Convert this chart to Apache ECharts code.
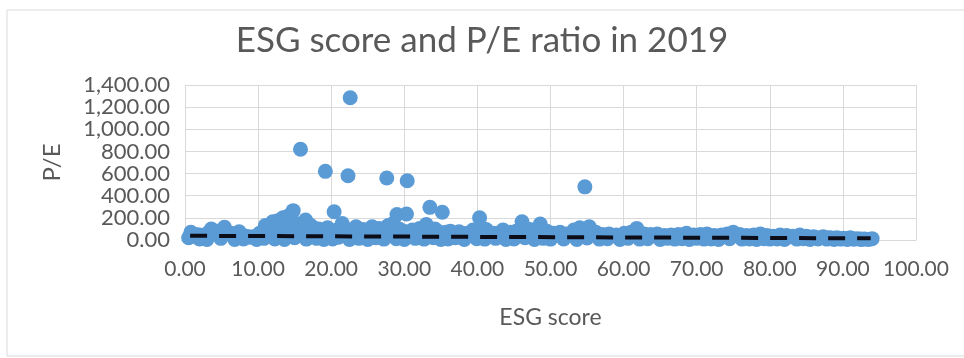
<!DOCTYPE html>
<html>
<head>
<meta charset="utf-8">
<script src="https://cdn.jsdelivr.net/npm/echarts@6/dist/echarts.min.js"></script>
<style>
	html, body { margin: 0; padding: 0; background: #fff; }
	#chart { width: 964px; height: 358px; }
</style>
</head>
<body>
<div id="chart"></div>
<script>
	// [ESG score, P/E] pairs
	var outliers = [
		[15.8, 820], [22.6, 1285], [19.2, 620], [22.3, 580], [27.6, 560], [30.4, 535], [54.7, 480]
	];
	var upperPoints = [
		[14.8, 265], [13.4, 200], [12.0, 165], [20.4, 255], [29.0, 230], [30.3, 235], [33.5, 295],
		[35.2, 250], [40.3, 200], [46.1, 165], [48.6, 145], [17.0, 140], [21.5, 150], [11.0, 130], [16.5, 180],
		[14.2, 220], [12.7, 175]
	];
	var midBand = [
		[0.8, 70], [1.5, 50], [2.5, 40], [3.6, 100], [4.4, 80], [5.4, 115], [6.3, 60], [7.4, 75], [8.4, 35],
		[9.3, 30], [10.2, 60], [12.8, 120], [14.0, 130], [15.2, 150], [16.2, 110], [17.4, 120], [18.3, 100],
		[19.5, 110], [20.8, 90], [21.7, 120], [23.4, 120], [24.4, 95], [25.6, 120], [26.6, 105], [27.8, 130],
		[28.5, 150], [31.1, 90], [32.1, 105], [33.0, 140], [34.2, 100], [36.3, 80], [37.5, 75], [38.6, 60],
		[39.4, 90], [41.2, 95], [42.2, 60], [43.5, 90], [44.5, 70], [45.3, 80], [47.2, 95], [49.5, 80],
		[50.4, 60], [51.3, 70], [52.2, 55], [53.2, 90], [54.0, 110], [55.3, 120], [56.2, 70], [57.1, 50],
		[58.0, 55], [59.0, 45], [60.1, 60], [61.0, 70], [61.8, 105], [62.8, 55], [63.7, 50], [64.6, 55],
		[65.6, 40], [66.5, 45], [67.5, 50], [68.6, 60], [69.6, 45], [70.5, 50], [71.4, 55], [72.4, 40],
		[73.4, 45], [74.2, 55], [75.0, 70], [75.9, 50], [76.8, 40], [77.8, 45], [78.7, 55], [79.6, 40],
		[80.5, 35], [81.4, 45], [82.3, 40], [83.2, 35], [84.1, 45], [85.0, 35], [86.0, 30], [87.3, 30],
		[88.3, 20], [89.2, 20], [90.1, 15], [91.0, 20], [92.0, 12], [93.0, 10], [94.0, 12]
	];
	var fillBand = [
		[1.1, 35], [2.0, 45], [3.1, 60], [4.0, 55], [4.9, 70], [5.9, 65], [6.9, 50], [7.9, 40], [8.9, 25],
		[9.8, 35], [10.7, 70], [11.4, 90], [12.3, 80], [13.2, 95], [14.5, 90], [15.7, 95], [16.8, 80],
		[17.9, 70], [18.9, 85], [20.0, 80], [21.2, 70], [22.2, 90], [23.0, 75], [24.0, 70], [25.0, 80],
		[26.1, 70], [27.2, 85], [28.0, 90], [29.3, 100], [29.9, 80], [30.8, 75], [31.6, 70], [32.6, 80],
		[33.7, 85], [34.7, 75], [35.7, 70], [36.9, 55], [38.0, 50], [39.0, 60], [39.9, 70], [40.8, 80],
		[41.7, 55], [42.8, 60], [44.0, 65], [44.9, 55], [45.8, 70], [46.7, 85], [47.7, 75], [48.2, 90],
		[49.0, 60], [50.0, 50], [50.9, 45], [51.8, 50], [52.7, 45], [53.7, 70], [54.4, 80], [54.9, 95],
		[55.8, 60], [56.7, 45], [57.6, 40], [58.5, 40], [59.6, 40], [60.6, 45], [61.4, 60], [62.3, 60],
		[63.3, 40], [64.1, 40], [65.1, 35], [66.0, 35], [67.0, 40], [68.0, 45], [69.1, 40], [70.0, 35],
		[71.0, 40], [71.9, 35], [72.9, 35], [73.8, 40], [74.6, 45], [75.5, 45], [76.4, 35], [77.3, 35],
		[78.2, 40], [79.2, 35], [80.1, 30], [81.0, 30], [81.9, 30], [82.8, 30], [83.7, 30], [84.6, 30],
		[85.5, 25], [86.6, 20], [87.8, 20], [88.8, 15], [89.7, 12], [90.6, 12], [91.5, 10], [92.5, 8]
	];
	var lowBand = [
		[0.5, 20], [2.0, 10], [3.0, 5], [4.9, 15], [6.8, 5], [8.0, 10], [9.8, 5], [10.8, 15], [12.3, 10],
		[13.6, 5], [15.0, 20], [16.6, 8], [18.0, 15], [19.0, 5], [20.2, 10], [21.0, 25], [22.5, 5], [23.8, 15],
		[25.0, 5], [26.1, 20], [27.2, 8], [28.9, 12], [30.0, 5], [31.5, 15], [32.7, 8], [34.0, 20], [35.0, 5],
		[36.0, 10], [37.0, 20], [38.2, 5], [39.9, 12], [41.0, 8], [42.5, 15], [43.9, 5], [45.0, 10], [46.5, 20],
		[47.8, 5], [49.0, 15], [50.0, 8], [51.8, 10], [53.6, 5], [55.0, 18], [56.7, 8], [57.8, 12], [59.5, 5],
		[60.6, 15], [62.2, 8], [63.3, 12], [65.0, 5], [66.0, 15], [67.0, 8], [68.0, 12], [69.0, 5], [70.0, 15],
		[71.0, 8], [72.0, 10], [73.0, 5], [74.5, 12], [76.2, 8], [77.2, 10], [78.2, 5], [79.2, 12], [80.0, 8],
		[81.0, 10], [82.0, 5], [83.7, 8], [84.6, 12], [85.5, 5], [86.6, 10], [87.8, 8], [88.8, 5], [89.7, 8],
		[90.6, 5], [91.5, 8], [92.5, 5], [93.5, 5]
	];
	// linear trend line end points
	var trendX = [0.7, 93.8];
	var trendY = [38, 15];

	var fontColor = '#595959';
	var fontName = 'Lato';
	var scatterData = lowBand.concat(fillBand, midBand, upperPoints, outliers);
	var trendData = trendX.map(function (x, i) { return [x, trendY[i]]; });

	var option = {
		backgroundColor: '#fff',
		animation: false,
		title: {
			text: 'ESG score and P/E ratio in 2019',
			left: 'center',
			top: 18,
			textStyle: {
				color: fontColor,
				fontFamily: fontName,
				fontWeight: 'normal',
				fontSize: 35
			}
		},
		graphic: [{
			type: 'rect',
			shape: { x: 7, y: 10, width: 975, height: 346 },
			style: { fill: 'none', stroke: '#d9d9d9', lineWidth: 1 },
			silent: true
		}],
		grid: {
			left: 185,
			right: 48,
			top: 85,
			bottom: 118
		},
		xAxis: {
			type: 'value',
			min: 0,
			max: 100,
			interval: 10,
			name: 'ESG score',
			nameLocation: 'middle',
			nameGap: 66,
			nameTextStyle: { color: fontColor, fontFamily: fontName, fontSize: 23 },
			axisTick: { show: false },
			axisLine: { show: true, lineStyle: { color: '#d9d9d9' } },
			axisLabel: {
				color: fontColor,
				fontFamily: fontName,
				fontSize: 21,
				margin: 19,
				formatter: function (v) { return v.toFixed(2); }
			},
			splitLine: { show: true, lineStyle: { color: '#d9d9d9' } }
		},
		yAxis: {
			type: 'value',
			min: 0,
			max: 1400,
			interval: 200,
			name: 'P/E',
			nameLocation: 'middle',
			nameGap: 121,
			nameTextStyle: { color: fontColor, fontFamily: fontName, fontSize: 24 },
			axisTick: { show: false },
			axisLine: { show: false },
			axisLabel: {
				color: fontColor,
				fontFamily: fontName,
				fontSize: 22,
				margin: 15,
				formatter: function (v) {
					return v.toLocaleString('en-US', { minimumFractionDigits: 2, maximumFractionDigits: 2 });
				}
			},
			splitLine: { show: true, lineStyle: { color: '#d9d9d9' } }
		},
		series: [{
			name: 'P/E',
			type: 'scatter',
			symbolSize: 15,
			data: scatterData,
			itemStyle: { color: '#5b9bd5', opacity: 1 },
			z: 2
		}, {
			name: 'Trend',
			type: 'line',
			data: trendData,
			symbol: 'none',
			lineStyle: { color: '#0d0d1a', width: 4, type: [17, 12] },
			z: 3
		}]
	};
	var myChart = echarts.init(document.getElementById('chart'));
	myChart.setOption(option);
</script>
</body>
</html>
